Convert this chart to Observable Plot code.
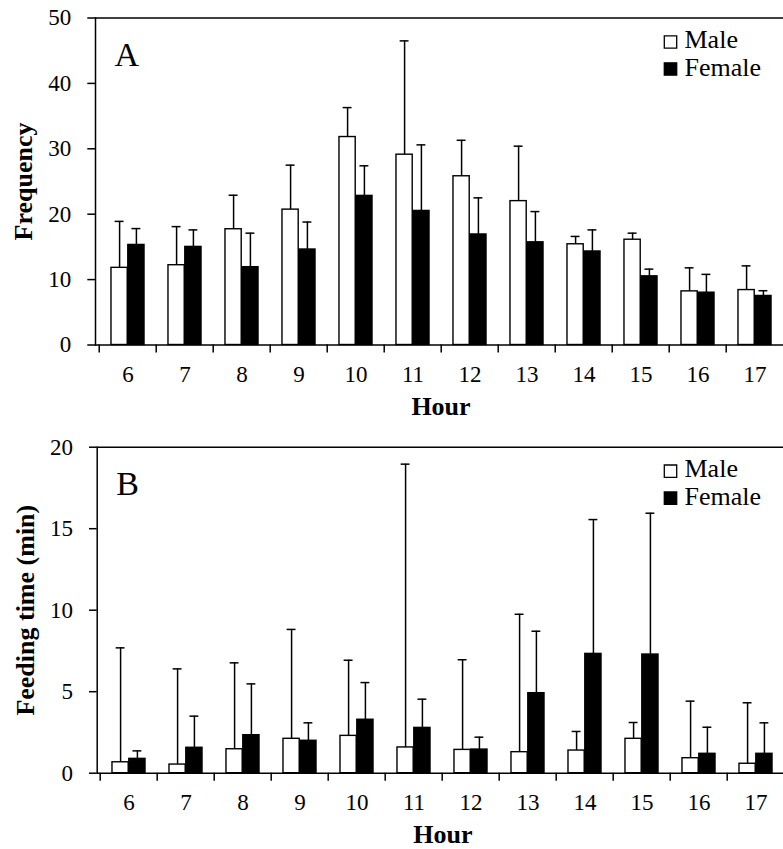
<!DOCTYPE html>
<html>
<head>
<meta charset="utf-8">
<script src="https://cdn.jsdelivr.net/npm/d3@7"></script>
<script src="https://cdn.jsdelivr.net/npm/@observablehq/plot@0.6"></script>
<style>
  html, body { margin: 0; padding: 0; background: #fff; overflow: hidden; }
  #chart { width: 783px; height: 849px; overflow: hidden; }
  #chart svg { display: block; font-family: "Liberation Serif", serif; }
</style>
</head>
<body>
<div id="chart"></div>
<script>
// Hours of observation (x categories)
const hours = [6, 7, 8, 9, 10, 11, 12, 13, 14, 15, 16, 17];
const sexes = ["Male", "Female"];

// Panel A: feeding frequency, mean and upper error
const freqMale      = [11.8, 12.2, 17.7, 20.7, 31.8, 29.1, 25.8, 22.0, 15.4, 16.1, 8.2, 8.4];
const freqMaleErr   = [7.1, 5.9, 5.2, 6.8, 4.5, 17.4, 5.5, 8.4, 1.2, 1.0, 3.6, 3.7];
const freqFemale    = [15.3, 15.0, 11.9, 14.6, 22.8, 20.5, 16.9, 15.7, 14.3, 10.5, 8.0, 7.5];
const freqFemaleErr = [2.5, 2.6, 5.2, 4.2, 4.6, 10.1, 5.6, 4.7, 3.3, 1.1, 2.8, 0.8];
const freqTicks     = [0, 10, 20, 30, 40, 50];

// Panel B: feeding time (min), mean and upper error
const timeMale      = [0.67, 0.53, 1.47, 2.11, 2.29, 1.58, 1.43, 1.29, 1.39, 2.11, 0.92, 0.58];
const timeMaleErr   = [7.02, 5.87, 5.30, 6.71, 4.64, 17.38, 5.53, 8.46, 1.17, 1.00, 3.50, 3.74];
const timeFemale    = [0.88, 1.56, 2.33, 1.99, 3.28, 2.78, 1.45, 4.91, 7.32, 7.28, 1.19, 1.19];
const timeFemaleErr = [0.49, 1.94, 3.15, 1.10, 2.28, 1.76, 0.76, 3.80, 8.24, 8.67, 1.63, 1.90];
const timeTicks     = [0, 5, 10, 15, 20];

const serif = "Liberation Serif";

function rowsFor(values, errs, sex) {
  return hours.map((h, i) => ({hour: String(h), sex, value: values[i], err: errs[i]}));
}

function panel(cfg) {
  const male = rowsFor(cfg.male, cfg.maleErr, "Male");
  const female = rowsFor(cfg.female, cfg.femaleErr, "Female");
  const yMax = cfg.ticks[cfg.ticks.length - 1];
  const step = (783 - cfg.marginRight - cfg.marginLeft) / hours.length;
  const barW = step * 0.292;
  const gap = (step - 2 * barW) / 2;
  const capW = 9.5;
  const legendX = 684 - cfg.marginLeft;
  const err = d => d.value + d.err;

  return Plot.plot({
    width: 783,
    height: cfg.height,
    marginLeft: cfg.marginLeft,
    marginRight: cfg.marginRight,
    marginTop: cfg.marginTop,
    marginBottom: cfg.marginBottom,
    x: {domain: hours.map(String), padding: 0},
    y: {domain: [0, yMax]},
    style: {fontFamily: serif, fontSize: "23px", color: "black", background: "white", overflow: "hidden"},
    marks: [
      // bars: male (open) on the left half of each hour, female (filled) on the right
      Plot.barY(male, {x: "hour", y: "value", fill: "white", stroke: "black", strokeWidth: 1.4,
        insetLeft: gap, insetRight: gap + barW}),
      Plot.barY(female, {x: "hour", y: "value", fill: "black", stroke: "black", strokeWidth: 1.4,
        insetLeft: gap + barW, insetRight: gap}),
      // upper error bars
      Plot.ruleX(male, {x: "hour", y1: "value", y2: err, dx: -barW / 2, strokeWidth: 1.5}),
      Plot.ruleX(female, {x: "hour", y1: "value", y2: err, dx: barW / 2, strokeWidth: 1.5}),
      Plot.tickY(male, {x: "hour", y: err, strokeWidth: 1.5,
        insetLeft: gap + barW / 2 - capW / 2, insetRight: gap + barW * 1.5 - capW / 2}),
      Plot.tickY(female, {x: "hour", y: err, strokeWidth: 1.5,
        insetLeft: gap + barW * 1.5 - capW / 2, insetRight: gap + barW / 2 - capW / 2}),
      // baseline, top border and left axis line
      Plot.ruleY([0], {strokeWidth: 1.5}),
      Plot.ruleY([yMax], {strokeWidth: 1.5}),
      Plot.frame({anchor: "left", strokeWidth: 1.5}),
      // axes
      Plot.axisY({ticks: cfg.ticks, tickSize: 7.7, tickPadding: 16.5, strokeWidth: 1.5, label: null,
        fontFamily: serif, fontSize: 23}),
      Plot.axisX({tickSize: 0, tickPadding: 20.5, label: null, fontFamily: serif, fontSize: 23}),
      Plot.axisX({tickSize: 8, tickFormat: () => "", dx: -step / 2, strokeWidth: 1.5, label: null}),
      // axis titles
      Plot.text([cfg.label], {frameAnchor: "left", rotate: -90, dx: -72, textAnchor: "middle",
        lineAnchor: "middle", fontWeight: "bold", fontSize: 26, fontFamily: serif}),
      Plot.text(["Hour"], {frameAnchor: "bottom", dy: 51.5, textAnchor: "middle", lineAnchor: "top",
        fontWeight: "bold", fontSize: 26, fontFamily: serif}),
      // panel letter
      Plot.text([cfg.letter], {frameAnchor: "top-left", dx: 19, dy: 24, textAnchor: "start",
        lineAnchor: "top", fontSize: 34, fontFamily: serif}),
      // legend
      ...sexes.map((s, i) => Plot.dot([s], {frameAnchor: "top-left", dx: legendX - 14, dy: 24 + 27 * i,
        symbol: "square", r: 7, fill: s === "Male" ? "white" : "black", stroke: "black", strokeWidth: 1.3})),
      ...sexes.map((s, i) => Plot.text([s], {frameAnchor: "top-left", dx: legendX, dy: 11.5 + 28 * i,
        textAnchor: "start", lineAnchor: "top", fontSize: 26, fontFamily: serif}))
    ]
  });
}

const chart = document.getElementById("chart");
chart.append(panel({
  male: freqMale, maleErr: freqMaleErr, female: freqFemale, femaleErr: freqFemaleErr,
  ticks: freqTicks, label: "Frequency", letter: "A",
  height: 425, marginTop: 17.5, marginBottom: 80.5, marginLeft: 95, marginRight: -3
}));
chart.append(panel({
  male: timeMale, maleErr: timeMaleErr, female: timeFemale, femaleErr: timeFemaleErr,
  ticks: timeTicks, label: "Feeding time (min)", letter: "B",
  height: 424, marginTop: 21.7, marginBottom: 76.3, marginLeft: 96.7, marginRight: -5
}));
</script>
</body>
</html>
